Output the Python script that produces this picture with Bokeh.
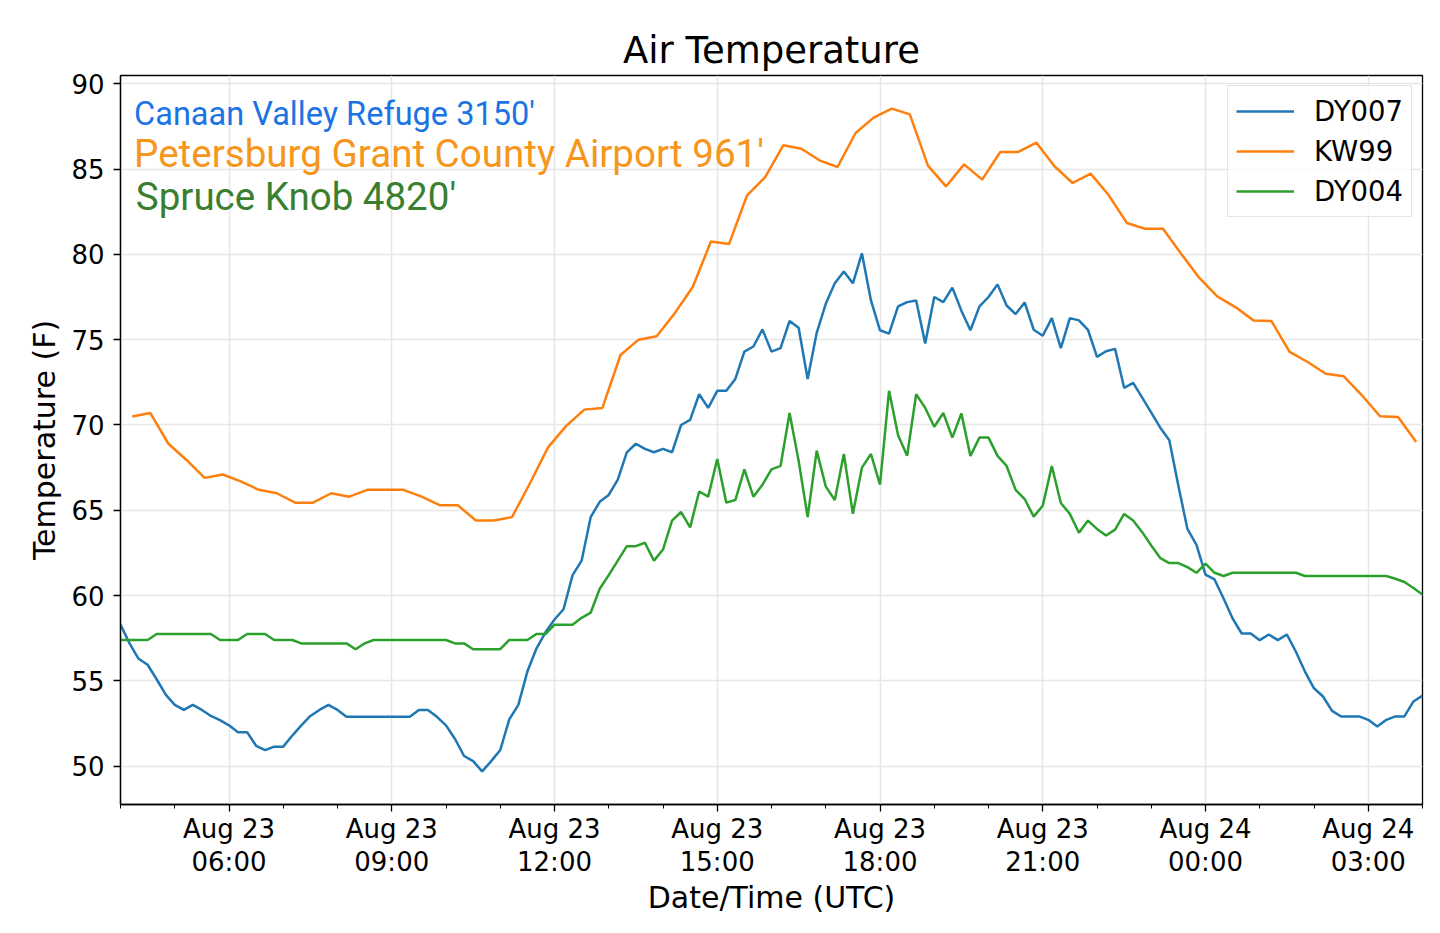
import pandas as pd
from bokeh.plotting import figure
from bokeh.models import Range1d, FixedTicker, DatetimeTickFormatter, Label
from bokeh.embed import file_html
from bokeh.resources import INLINE

# DY007 (Canaan Valley) and DY004 (Spruce Knob): 10-minute obs from 04:00 UTC Aug 23
dy007_temps = [
    58.3, 57.2, 56.3, 55.95, 55.1, 54.2, 53.6, 53.3, 53.6, 53.3, 52.95, 52.7,
    52.4, 52.0, 52.0, 51.2, 50.95, 51.15, 51.15, 51.8, 52.4, 52.95, 53.3, 53.6,
    53.3, 52.9, 52.9, 52.9, 52.9, 52.9, 52.9, 52.9, 52.9, 53.3, 53.3, 52.9,
    52.4, 51.6, 50.6, 50.3, 49.7, 50.3, 50.95, 52.75, 53.6, 55.55, 56.9, 57.85,
    58.6, 59.2, 61.2, 62.05, 64.6, 65.5, 65.9, 66.8, 68.4, 68.9, 68.6, 68.4,
    68.6, 68.4, 70.0, 70.3, 71.8, 71.0, 72.0, 72.0, 72.7, 74.3, 74.6, 75.6,
    74.3, 74.5, 76.1, 75.7, 72.7, 75.4, 77.1, 78.3, 79.0, 78.3, 80.06, 77.3,
    75.55, 75.35, 76.95, 77.2, 77.3, 74.77, 77.5, 77.2, 78.05, 76.7, 75.55, 76.95,
    77.5, 78.24, 77.0, 76.5, 77.18, 75.58, 75.23, 76.26, 74.51, 76.26, 76.13, 75.58,
    73.99, 74.32, 74.46, 72.18, 72.47, 71.6, 70.72, 69.84, 69.1, 66.44, 63.91, 62.98,
    61.23, 60.95, 59.83, 58.66, 57.78, 57.78, 57.39, 57.72, 57.39, 57.72, 56.71, 55.55,
    54.57, 54.09, 53.25, 52.92, 52.92, 52.92, 52.72, 52.33, 52.72, 52.92, 52.92, 53.8,
    54.14,
]
dy004_temps = [
    57.4, 57.4, 57.4, 57.4, 57.75, 57.75, 57.75, 57.75, 57.75, 57.75, 57.75, 57.4,
    57.4, 57.4, 57.75, 57.75, 57.75, 57.4, 57.4, 57.4, 57.2, 57.2, 57.2, 57.2,
    57.2, 57.2, 56.86, 57.2, 57.4, 57.4, 57.4, 57.4, 57.4, 57.4, 57.4, 57.4,
    57.4, 57.2, 57.2, 56.86, 56.86, 56.86, 56.86, 57.4, 57.4, 57.4, 57.75, 57.75,
    58.3, 58.3, 58.3, 58.7, 59.0, 60.4, 61.2, 62.05, 62.9, 62.9, 63.1, 62.05,
    62.7, 64.4, 64.9, 64.0, 66.1, 65.8, 68.0, 65.45, 65.6, 67.4, 65.8, 66.5,
    67.4, 67.6, 70.7, 67.9, 64.6, 68.5, 66.4, 65.6, 68.3, 64.8, 67.5, 68.3,
    66.5, 72.0, 69.4, 68.2, 71.8, 71.0, 69.9, 70.7, 69.26, 70.68, 68.19, 69.26,
    69.26, 68.19, 67.6, 66.2, 65.66, 64.63, 65.27, 67.6, 65.43, 64.79, 63.68, 64.4,
    63.91, 63.52, 63.87, 64.79, 64.4, 63.72, 62.94, 62.2, 61.91, 61.91, 61.67, 61.34,
    61.87, 61.34, 61.15, 61.34, 61.34, 61.34, 61.34, 61.34, 61.34, 61.34, 61.34, 61.15,
    61.15, 61.15, 61.15, 61.15, 61.15, 61.15, 61.15, 61.15, 61.15, 60.99, 60.8, 60.45,
    60.06,
]
# KW99 (Petersburg airport): 20-minute obs from 04:13 UTC
kw99_temps = [
    70.5, 70.7, 68.9, 67.95, 66.9, 67.1, 66.7, 66.2, 66.0, 65.45, 65.45, 66.0,
    65.8, 66.2, 66.2, 66.2, 65.8, 65.3, 65.3, 64.4, 64.4, 64.6, 66.6, 68.7,
    69.95, 70.9, 71.0, 74.1, 75.0, 75.2, 76.55, 78.1, 80.75, 80.6, 83.46, 84.53,
    86.39, 86.19, 85.51, 85.12, 87.11, 88.01, 88.54, 88.2, 85.2, 83.98, 85.27, 84.38,
    86.0, 86.0, 86.54, 85.16, 84.18, 84.73, 83.46, 81.84, 81.5, 81.5, 80.04, 78.63,
    77.54, 76.91, 76.13, 76.09, 74.28, 73.69, 73.0, 72.85, 71.74, 70.51, 70.47, 69.0,
]

station_names = ["DY007", "KW99", "DY004"]
station_titles = ["Canaan Valley Refuge 3150'", "Petersburg Grant County Airport 961'", "Spruce Knob 4820'"]
line_colors = ["#1f77b4", "#ff7f0e", "#2ca02c"]
title_colors = ["#1c74e4", "#f7961d", "#3a7f30"]
y_ticks = [50, 55, 60, 65, 70, 75, 80, 85, 90]

mesonet_times = pd.date_range("2018-08-23 04:00", periods=len(dy007_temps), freq="10min")
kw99_times = pd.date_range("2018-08-23 04:13", periods=len(kw99_temps), freq="20min")
major_ticks = pd.date_range("2018-08-23 06:00", "2018-08-24 03:00", freq="180min")
minor_ticks = pd.date_range("2018-08-23 04:00", "2018-08-24 04:00", freq="60min")


def ms(ts):
    return pd.Timestamp(ts).timestamp() * 1000


p = figure(width=1424, height=917, x_axis_type="datetime",
           x_range=Range1d(pd.Timestamp("2018-08-23 04:00"), pd.Timestamp("2018-08-24 04:00")),
           y_range=Range1d(47.76, 90.48),
           x_axis_label="Date/Time (UTC)", y_axis_label="Temperature (F)",
           title="Air Temperature",
           output_backend="svg", toolbar_location=None,
           min_border_left=120, min_border_right=2, min_border_top=75, min_border_bottom=109)

p.line(mesonet_times, dy007_temps, color=line_colors[0], line_width=2.5, legend_label=station_names[0])
p.line(kw99_times, kw99_temps, color=line_colors[1], line_width=2.5, legend_label=station_names[1])
p.line(mesonet_times, dy004_temps, color=line_colors[2], line_width=2.5, legend_label=station_names[2])

p.title.text_font = "DejaVu Sans"
p.title.text_font_size = "37px"
p.title.text_font_style = "normal"
p.title.text_color = "black"
p.title.align = "center"
p.title.standoff = 7

p.outline_line_color = "black"
p.outline_line_width = 1.3

p.xaxis.ticker = FixedTicker(ticks=[ms(t) for t in major_ticks], minor_ticks=[ms(t) for t in minor_ticks])
p.xaxis.formatter = DatetimeTickFormatter(
    hours="%b %d\n%H:%M", days="%b %d\n%H:%M", minutes="%b %d\n%H:%M",
    months="%b %d\n%H:%M", years="%b %d\n%H:%M")
p.yaxis.ticker = FixedTicker(ticks=y_ticks, minor_ticks=[])

for ax in (p.xaxis, p.yaxis):
    ax.axis_line_color = "black"
    ax.axis_line_width = 1.3
    ax.major_tick_line_color = "black"
    ax.major_tick_line_width = 1.3
    ax.minor_tick_line_color = "black"
    ax.major_tick_in = 0
    ax.major_tick_out = 7
    ax.minor_tick_in = 0
    ax.minor_tick_out = 4
    ax.major_label_text_font = "DejaVu Sans"
    ax.major_label_text_font_size = "26px"
    ax.major_label_text_color = "black"
    ax.axis_label_text_font = "DejaVu Sans"
    ax.axis_label_text_font_size = "30px"
    ax.axis_label_text_font_style = "normal"
    ax.axis_label_text_color = "black"

p.xaxis.major_label_text_line_height = 1.1
p.xaxis.major_label_standoff = 2
p.xaxis.axis_label_standoff = 0
p.yaxis.major_label_standoff = 9
p.yaxis.axis_label_standoff = 6
p.yaxis.minor_tick_line_color = None

p.grid.grid_line_color = "#e6e6e6"
p.grid.grid_line_width = 1.5

p.legend.location = "top_right"
p.legend.margin = 10
p.legend.padding = 8
p.legend.spacing = 6
p.legend.label_height = 34
p.legend.glyph_height = 34
p.legend.glyph_width = 58
p.legend.label_standoff = 20
p.legend.label_text_font = "DejaVu Sans"
p.legend.label_text_font_size = "27.5px"
p.legend.label_text_color = "black"
p.legend.border_line_color = "#cccccc"
p.legend.border_line_width = 1
p.legend.background_fill_alpha = 0.8

label_x = ["2018-08-23 04:15", "2018-08-23 04:15", "2018-08-23 04:17"]
label_y = [88.2, 85.92, 83.4]
label_size = ["32.5px", "38.6px", "38.5px"]
for name, col, lx, ly, size in zip(station_titles, title_colors, label_x, label_y, label_size):
    p.add_layout(Label(x=ms(lx), y=ly, text=name, text_color=col, text_font="Roboto",
                       text_font_size=size, text_baseline="alphabetic"))

open("out.html", "w").write(file_html(p, INLINE))
